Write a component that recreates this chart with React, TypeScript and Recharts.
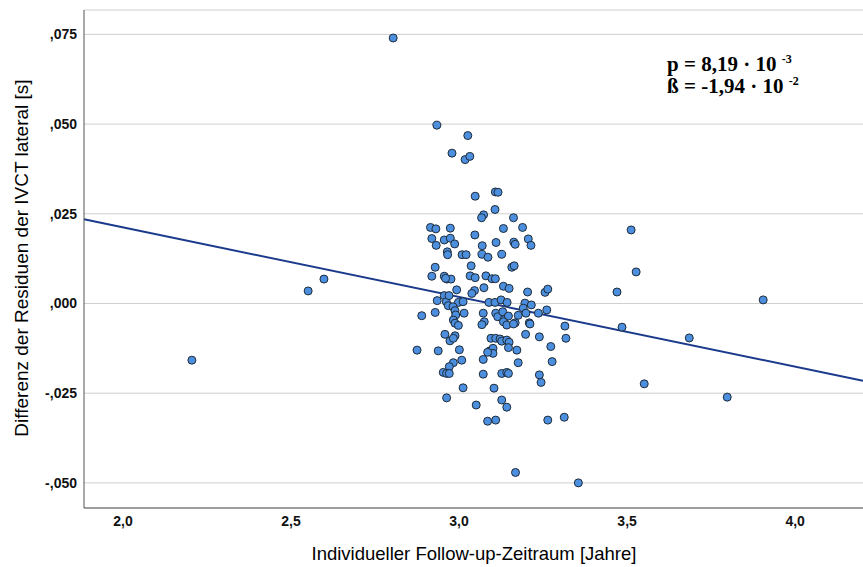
import React from 'react';
import {
  ScatterChart,
  Scatter,
  XAxis,
  YAxis,
  CartesianGrid,
  ReferenceLine,
  Label,
} from 'recharts';

// follow-up time [years]
const followUp = [
  2.804, 2.205, 2.551, 2.598, 3.512, 3.527, 3.470, 3.485, 3.551, 3.685, 3.798, 3.905,
  3.168, 3.355, 3.313, 3.264, 3.085, 3.109, 3.051, 3.142, 3.127, 2.963, 3.012, 3.104,
  2.934, 3.026, 2.979, 3.018, 3.032, 3.048, 3.108, 3.116, 3.107, 3.073, 3.067, 3.162,
  2.915, 2.931, 2.974, 3.132, 3.189, 3.047, 2.919, 2.932, 2.956, 2.974, 2.987, 3.069,
  3.110, 3.163, 3.167, 3.206, 3.214, 2.965, 2.966, 3.009, 3.021, 3.068, 3.086, 3.127,
  2.929, 3.036, 3.157, 3.164, 2.919, 2.956, 2.964, 2.976, 2.960, 3.033, 3.048, 3.080,
  3.098, 3.108, 2.993, 3.046, 3.038, 3.074, 3.132, 3.149, 3.204, 3.256, 3.264, 2.935,
  2.956, 2.962, 2.970, 2.998, 3.012, 3.089, 3.107, 3.125, 3.143, 3.196, 3.215, 2.929,
  2.889, 2.968, 2.982, 2.988, 2.990, 2.983, 3.015, 3.072, 3.075, 3.109, 3.115, 3.130,
  3.134, 3.147, 3.167, 3.176, 3.191, 3.199, 3.209, 3.236, 3.261, 2.988, 2.998, 3.068,
  3.132, 3.142, 3.162, 3.211, 3.315, 3.318, 2.958, 2.988, 2.973, 2.983, 3.095, 3.109,
  3.122, 3.127, 3.142, 3.149, 3.147, 3.172, 3.092, 3.101, 3.101, 3.085, 3.198, 3.239,
  3.273, 2.875, 2.938, 3.001, 3.008, 2.983, 2.971, 3.072, 3.176, 3.277, 2.953, 2.963,
  2.971, 3.072, 3.127, 3.142, 3.147, 3.239, 3.244,
];

// difference of IVCT lateral residuals [s]
const residualDiff = [
  0.0740, -0.0158, 0.0035, 0.0068, 0.0205, 0.0088, 0.0032, -0.0066, -0.0224, -0.0096, -0.0261, 0.0010,
  -0.0471, -0.0500, -0.0317, -0.0325, -0.0328, -0.0325, -0.0283, -0.0289, -0.0269, -0.0263, -0.0235, -0.0236,
  0.0497, 0.0468, 0.0419, 0.0401, 0.0410, 0.0299, 0.0311, 0.0310, 0.0262, 0.0247, 0.0239, 0.0239,
  0.0212, 0.0208, 0.0210, 0.0209, 0.0212, 0.0191, 0.0181, 0.0162, 0.0177, 0.0182, 0.0166, 0.0161,
  0.0170, 0.0171, 0.0165, 0.0180, 0.0162, 0.0144, 0.0136, 0.0136, 0.0136, 0.0137, 0.0129, 0.0137,
  0.0101, 0.0105, 0.0101, 0.0105, 0.0076, 0.0076, 0.0068, 0.0068, 0.0070, 0.0077, 0.0072, 0.0077,
  0.0069, 0.0069, 0.0038, 0.0036, 0.0028, 0.0044, 0.0048, 0.0042, 0.0032, 0.0031, 0.0040, 0.0008,
  0.0022, 0.0005, 0.0022, 0.0003, 0.0005, 0.0003, 0.0003, 0.0010, 0.0003, 0.0001, -0.0004, -0.0025,
  -0.0034, -0.0006, -0.0009, -0.0020, -0.0032, -0.0046, -0.0027, -0.0027, -0.0051, -0.0027, -0.0037, -0.0023,
  -0.0045, -0.0035, -0.0054, -0.0033, -0.0013, -0.0027, -0.0054, -0.0027, -0.0018, -0.0055, -0.0061, -0.0059,
  -0.0051, -0.0060, -0.0057, -0.0057, -0.0063, -0.0097, -0.0086, -0.0090, -0.0104, -0.0097, -0.0097, -0.0097,
  -0.0099, -0.0105, -0.0102, -0.0108, -0.0123, -0.0130, -0.0132, -0.0125, -0.0139, -0.0136, -0.0086, -0.0093,
  -0.0120, -0.0130, -0.0132, -0.0129, -0.0158, -0.0165, -0.0176, -0.0156, -0.0165, -0.0162, -0.0192, -0.0195,
  -0.0195, -0.0197, -0.0195, -0.0192, -0.0195, -0.0199, -0.0220,
];

const xTicks = [2.0, 2.5, 3.0, 3.5, 4.0];
const yTicks = [-0.05, -0.025, 0, 0.025, 0.05, 0.075];
const xDomain = [1.884, 4.202];
const yDomain = [-0.057, 0.0818];

// linear fit: y = intercept + slope * x
const intercept = 0.06;
const slope = -0.0194;

const points = followUp.map((x, i) => ({ x, y: residualDiff[i] }));
const fitLine = xDomain.map((x) => ({ x, y: intercept + slope * x }));

const fmtX = (v: number) => v.toFixed(1).replace('.', ',');
const fmtY = (v: number) => {
  const s = Math.abs(v).toFixed(3).replace(/^0\./, ',');
  return v < 0 ? '-' + s : s;
};

const Dot = (props: any) => (
  <circle cx={props.cx} cy={props.cy} r={4} fill="#4d8fdf" stroke="#1e2b38" strokeWidth={1} />
);

const YTitle = () => (
  <text
    x={21}
    y={258}
    transform="rotate(-90 21 258)"
    textAnchor="middle"
    dominantBaseline="central"
    fontFamily="Liberation Sans, Arial, sans-serif"
    fontSize={19}
    fill="#000"
  >
    Differenz der Residuen der IVCT lateral [s]
  </text>
);

const XTitle = () => (
  <text
    x={474}
    y={553}
    textAnchor="middle"
    dominantBaseline="central"
    fontFamily="Liberation Sans, Arial, sans-serif"
    fontSize={18.5}
    fill="#000"
  >
    Individueller Follow-up-Zeitraum [Jahre]
  </text>
);

const tickStyle = {
  fontFamily: 'Liberation Sans, Arial, sans-serif',
  fontSize: 14,
  fontWeight: 700,
  fill: '#111',
};

export default function App() {
  return (
    <div style={{ position: 'absolute', left: 0, top: 0, width: 863, height: 567, background: '#fff' }}>
      <ScatterChart width={863} height={567} margin={{ top: 10, right: 0, bottom: 0, left: 0 }}>
        <CartesianGrid vertical={false} stroke="#cfcfcf" />
        <XAxis
          type="number"
          dataKey="x"
          domain={xDomain}
          ticks={xTicks}
          tickFormatter={fmtX}
          allowDataOverflow
          height={59}
          tickLine={false}
          tickSize={6}
          tickMargin={2}
          tick={tickStyle}
          stroke="#555"
        >
          <Label content={XTitle} />
        </XAxis>
        <YAxis
          type="number"
          dataKey="y"
          domain={yDomain}
          ticks={yTicks}
          tickFormatter={fmtY}
          allowDataOverflow
          width={84}
          tickLine={false}
          tickSize={5}
          tickMargin={2}
          tick={tickStyle}
          stroke="#555"
        >
          <Label content={YTitle} />
        </YAxis>
        <ReferenceLine
          segment={fitLine}
          stroke="#1b3a8c"
          strokeWidth={2}
          ifOverflow="extendDomain"
        />
        <Scatter data={points} shape={Dot} isAnimationActive={false} />
      </ScatterChart>
      <div
        style={{
          position: 'absolute',
          left: 667,
          top: 53,
          fontFamily: 'Liberation Serif, Times New Roman, serif',
          fontWeight: 700,
          fontSize: 21,
          lineHeight: '22px',
          color: '#000',
          whiteSpace: 'nowrap',
        }}
      >
        <div>
          p = 8,19 · 10 <sup style={{ fontSize: 12, verticalAlign: 'top', lineHeight: '12px' }}>-3</sup>
        </div>
        <div>
          ß = -1,94 · 10 <sup style={{ fontSize: 12, verticalAlign: 'top', lineHeight: '12px' }}>-2</sup>
        </div>
      </div>
    </div>
  );
}
